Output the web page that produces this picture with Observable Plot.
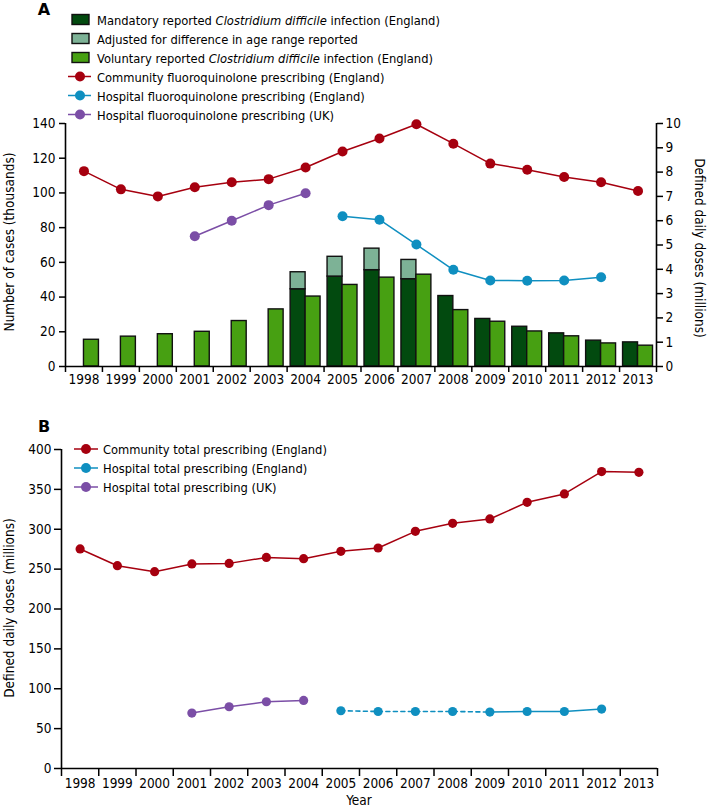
<!DOCTYPE html>
<html>
<head>
<meta charset="utf-8">
<script src="https://cdn.jsdelivr.net/npm/d3@7"></script>
<script src="https://cdn.jsdelivr.net/npm/@observablehq/plot@0.6"></script>
<style>
  html, body { margin: 0; padding: 0; background: #fff; }
  #wrap { position: relative; width: 709px; height: 808px; overflow: hidden; }
  #wrap > svg, #wrap > figure { position: absolute; left: 0; margin: 0; }
  .ov { position: absolute; left: 0; top: 0; pointer-events: none; }
</style>
</head>
<body>
<div id="wrap"></div>
<script>
// ---------- DATA ----------
const years = [1998, 1999, 2000, 2001, 2002, 2003, 2004, 2005, 2006, 2007, 2008, 2009, 2010, 2011, 2012, 2013];

// Panel A: C difficile cases (thousands)
const mandatoryYears = [2004, 2005, 2006, 2007, 2008, 2009, 2010, 2011, 2012, 2013];
const mandatoryCases = [44.5, 51.8, 55.5, 50.3, 40.6, 27.4, 22.9, 19.1, 14.9, 13.9];
const adjustedYears = [2004, 2005, 2006, 2007];
const adjustedTotal = [54.3, 63.2, 67.9, 61.4];
const voluntaryCases = [15.4, 17.2, 18.6, 20.0, 26.2, 32.9, 40.3, 47.0, 51.2, 52.9, 32.5, 25.8, 20.2, 17.4, 13.3, 12.0];

// Panel A: fluoroquinolone prescribing (DDD, millions)
const communityFQ = [8.04, 7.29, 7.0, 7.38, 7.58, 7.71, 8.19, 8.85, 9.38, 9.97, 9.17, 8.35, 8.10, 7.80, 7.58, 7.22];
const hospEngFQYears = [2005, 2006, 2007, 2008, 2009, 2010, 2011, 2012];
const hospEngFQ = [6.18, 6.04, 5.02, 3.98, 3.54, 3.53, 3.54, 3.67];
const hospUKFQYears = [2001, 2002, 2003, 2004];
const hospUKFQ = [5.36, 6.0, 6.64, 7.13];

// Panel B: total prescribing (DDD, millions)
const communityTotal = [275.3, 254.3, 246.8, 256.5, 257.2, 264.7, 263.1, 272.3, 276.5, 297.4, 307.4, 312.9, 333.8, 344.3, 372.3, 371.4];
const hospEngTotalYears = [2005, 2006, 2007, 2008, 2009, 2010, 2011, 2012];
const hospEngTotal = [72.4, 71.5, 71.5, 71.5, 70.8, 71.5, 71.5, 74.5];
const hospEngDashedUntil = 2009;
const hospUKTotalYears = [2001, 2002, 2003, 2004];
const hospUKTotal = [69.5, 77.4, 83.7, 85.3];

const leftTicksA = [0, 20, 40, 60, 80, 100, 120, 140];
const rightTicksA = [0, 1, 2, 3, 4, 5, 6, 7, 8, 9, 10];
const ticksB = [0, 50, 100, 150, 200, 250, 300, 350, 400];

// ---------- STYLE ----------
const C = {
  mand: "#024a0f", adj: "#7db296", vol: "#47a012",
  red: "#a6000f", blue: "#0f8fc0", purple: "#7b4ea6", edge: "#111"
};
const FONT = "'DejaVu Sans Condensed', 'DejaVu Sans', sans-serif";
const TICK = "13.5px";
const ratio = 14; // right axis (millions) -> left axis (thousands)

const zip = (xs, ys) => xs.map((x, i) => ({year: x, value: ys[i]}));
const mand = zip(mandatoryYears, mandatoryCases);
const adj = adjustedYears.map((y, i) => ({year: y, lo: mandatoryCases[mandatoryYears.indexOf(y)], hi: adjustedTotal[i]}));
const vol = zip(years, voluntaryCases);
const comFQ = zip(years, communityFQ);
const engFQ = zip(hospEngFQYears, hospEngFQ);
const ukFQ = zip(hospUKFQYears, hospUKFQ);
const comT = zip(years, communityTotal);
const engT = zip(hospEngTotalYears, hospEngTotal);
const engTDash = engT.filter(d => d.year <= hospEngDashedUntil);
const engTSolid = engT.filter(d => d.year >= hospEngDashedUntil);
const ukT = zip(hospUKTotalYears, hospUKTotal);

const xDomain = [years[0] - 0.5, years[years.length - 1] + 0.5];
const bounds = years.map(y => y - 0.5).concat([years[years.length - 1] + 0.5]);

const wrap = document.getElementById("wrap");

// ---------- PANEL A ----------
const ya = d => d.value * ratio;
const chartA = Plot.plot({
  width: 709, height: 396,
  marginLeft: 65, marginRight: 53, marginTop: 123, marginBottom: 30,
  x: {domain: xDomain},
  y: {domain: [0, 140]},
  style: {fontFamily: FONT, fontSize: TICK, color: "#000", background: "transparent", overflow: "visible"},
  marks: [
    Plot.rect(mand, {x1: d => d.year - 0.5, x2: "year", y1: 0, y2: "value", fill: C.mand, stroke: C.edge, strokeWidth: 1.4, insetLeft: 3.5}),
    Plot.rect(adj, {x1: d => d.year - 0.5, x2: "year", y1: "lo", y2: "hi", fill: C.adj, stroke: C.edge, strokeWidth: 1.4, insetLeft: 3.5}),
    Plot.rect(vol, {x1: "year", x2: d => d.year + 0.5, y1: 0, y2: "value", fill: C.vol, stroke: C.edge, strokeWidth: 1.4, insetRight: 3.5}),
    Plot.line(comFQ, {x: "year", y: ya, stroke: C.red, strokeWidth: 1.5}),
    Plot.dot(comFQ, {x: "year", y: ya, r: 5, fill: C.red}),
    Plot.line(engFQ, {x: "year", y: ya, stroke: C.blue, strokeWidth: 1.5}),
    Plot.dot(engFQ, {x: "year", y: ya, r: 5, fill: C.blue}),
    Plot.line(ukFQ, {x: "year", y: ya, stroke: C.purple, strokeWidth: 1.5}),
    Plot.dot(ukFQ, {x: "year", y: ya, r: 5, fill: C.purple}),
    Plot.axisX({ticks: years, tickSize: 0, tickPadding: 8, tickFormat: "d", label: null}),
    Plot.axisX({ticks: bounds, tickSize: 6, tickFormat: () => "", label: null, strokeWidth: 1.5}),
    Plot.axisY({ticks: leftTicksA, tickSize: 6, tickPadding: 4, label: null, strokeWidth: 1.5}),
    Plot.axisY({anchor: "right", ticks: rightTicksA.map(v => v * ratio), tickFormat: d => String(Math.round(d / ratio)), tickSize: 6, tickPadding: 3, label: null, strokeWidth: 1.5}),
    Plot.ruleY([0], {strokeWidth: 1.6}),
    Plot.ruleX([xDomain[0]], {strokeWidth: 1.6}),
    Plot.ruleX([xDomain[1]], {strokeWidth: 1.6})
  ]
});
chartA.style.top = "0px";
wrap.appendChild(chartA);

// ---------- PANEL B ----------
const chartB = Plot.plot({
  width: 709, height: 408,
  marginLeft: 61, marginRight: 52, marginTop: 49, marginBottom: 40,
  x: {domain: xDomain},
  y: {domain: [0, 400]},
  style: {fontFamily: FONT, fontSize: TICK, color: "#000", background: "transparent", overflow: "visible"},
  marks: [
    Plot.line(comT, {x: "year", y: "value", stroke: C.red, strokeWidth: 1.5}),
    Plot.dot(comT, {x: "year", y: "value", r: 4.6, fill: C.red}),
    Plot.line(engTDash, {x: "year", y: "value", stroke: C.blue, strokeWidth: 1.6, strokeDasharray: "4,3.5"}),
    Plot.line(engTSolid, {x: "year", y: "value", stroke: C.blue, strokeWidth: 1.5}),
    Plot.dot(engT, {x: "year", y: "value", r: 4.6, fill: C.blue}),
    Plot.line(ukT, {x: "year", y: "value", stroke: C.purple, strokeWidth: 1.5}),
    Plot.dot(ukT, {x: "year", y: "value", r: 4.6, fill: C.purple}),
    Plot.axisX({ticks: years, tickSize: 0, tickPadding: 10, tickFormat: "d", label: null}),
    Plot.axisX({ticks: bounds, tickSize: 8, tickFormat: () => "", label: null, strokeWidth: 1.5}),
    Plot.axisY({ticks: ticksB, tickSize: 7, tickPadding: 3, label: null, strokeWidth: 1.5}),
    Plot.ruleY([0], {strokeWidth: 1.6}),
    Plot.ruleX([xDomain[0]], {strokeWidth: 1.6})
  ]
});
chartB.style.top = "400px";
wrap.appendChild(chartB);

// ---------- OVERLAY: panel letters, titles, legends ----------
const ns = "http://www.w3.org/2000/svg";
const ov = document.createElementNS(ns, "svg");
ov.setAttribute("class", "ov");
ov.setAttribute("width", 709);
ov.setAttribute("height", 808);
ov.style.fontFamily = FONT;
wrap.appendChild(ov);

function el(tag, attrs, parent = ov) {
  const e = document.createElementNS(ns, tag);
  for (const k in attrs) e.setAttribute(k, attrs[k]);
  parent.appendChild(e);
  return e;
}
function txt(x, y, parts, opts = {}) {
  const t = el("text", Object.assign({x, y, "dominant-baseline": "central", "font-size": opts.size || 13, fill: "#000"}, opts.attrs || {}));
  for (const p of parts) {
    const s = el("tspan", {}, t);
    if (typeof p === "string") s.textContent = p;
    else { s.textContent = p.t; if (p.i) s.setAttribute("font-style", "italic"); }
  }
  return t;
}

// panel letters
txt(44, 9, ["A"], {size: 16, attrs: {"font-weight": "bold", "text-anchor": "middle", "font-family": "'DejaVu Sans', sans-serif"}});
txt(44, 426, ["B"], {size: 16, attrs: {"font-weight": "bold", "text-anchor": "middle", "font-family": "'DejaVu Sans', sans-serif"}});

// axis titles
const TT = 13.5;
txt(0, 0, ["Number of cases (thousands)"], {size: TT, attrs: {"text-anchor": "middle", transform: "translate(9,242) rotate(-90)"}});
txt(0, 0, ["Defined daily doses (millions)"], {size: TT, attrs: {"text-anchor": "middle", transform: "translate(700,248) rotate(90)"}});
txt(0, 0, ["Defined daily doses (millions)"], {size: TT, attrs: {"text-anchor": "middle", transform: "translate(9,608) rotate(-90)"}});
txt(359, 800, ["Year"], {size: TT, attrs: {"text-anchor": "middle"}});

// legend A
const legA = [
  {type: "box", color: C.mand, parts: ["Mandatory reported ", {t: "Clostridium difficile", i: true}, " infection (England)"]},
  {type: "box", color: C.adj, parts: ["Adjusted for difference in age range reported"]},
  {type: "box", color: C.vol, parts: ["Voluntary reported ", {t: "Clostridium difficile", i: true}, " infection (England)"]},
  {type: "line", color: C.red, parts: ["Community fluoroquinolone prescribing (England)"]},
  {type: "line", color: C.blue, parts: ["Hospital fluoroquinolone prescribing (England)"]},
  {type: "line", color: C.purple, parts: ["Hospital fluoroquinolone prescribing (UK)"]}
];
const LEG = 12.8;
legA.forEach((d, i) => {
  const cy = 19.5 + i * 19;
  if (d.type === "box") {
    el("rect", {x: 72, y: cy - 5, width: 17, height: 10, fill: d.color, stroke: C.edge, "stroke-width": 1.4});
  } else {
    el("line", {x1: 68, x2: 91, y1: cy, y2: cy, stroke: d.color, "stroke-width": 1.5});
    el("circle", {cx: 80, cy, r: 5, fill: d.color});
  }
  txt(97, cy, d.parts, {size: LEG});
});

// legend B
const legB = [
  {color: C.red, label: "Community total prescribing (England)"},
  {color: C.blue, label: "Hospital total prescribing (England)"},
  {color: C.purple, label: "Hospital total prescribing (UK)"}
];
legB.forEach((d, i) => {
  const cy = 449 + i * 19;
  el("line", {x1: 74, x2: 98, y1: cy, y2: cy, stroke: d.color, "stroke-width": 1.5});
  el("circle", {cx: 86, cy, r: 5, fill: d.color});
  txt(103, cy, [d.label], {size: LEG});
});
</script>
</body>
</html>
